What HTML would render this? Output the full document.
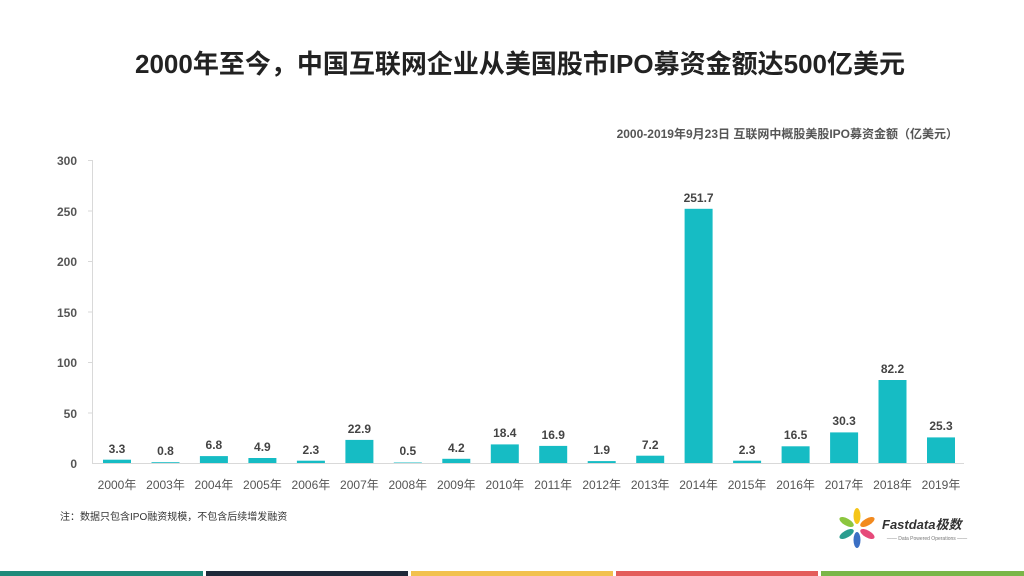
<!DOCTYPE html><html><head><meta charset="utf-8"><style>body{margin:0;background:#fff}svg{display:block}text{font-family:"Liberation Sans","Noto Sans CJK SC",sans-serif}</style></head><body>
<svg width="1024" height="576" viewBox="0 0 1024 576" xmlns="http://www.w3.org/2000/svg">
<text x="520" y="73" text-anchor="middle" font-size="26" font-weight="bold" fill="#222">2000年至今，中国互联网企业从美国股市IPO募资金额达500亿美元</text>
<text x="958" y="138" text-anchor="end" font-size="12" font-weight="bold" fill="#555">2000-2019年9月23日 互联网中概股美股IPO募资金额（亿美元）</text>
<g stroke="#d9d9d9" stroke-width="1">
<line x1="92.5" y1="160" x2="92.5" y2="463"/>
<line x1="92" y1="463.5" x2="964" y2="463.5"/>
<line x1="88" y1="160.5" x2="92" y2="160.5"/><line x1="88" y1="211" x2="92" y2="211"/><line x1="88" y1="261.5" x2="92" y2="261.5"/><line x1="88" y1="312" x2="92" y2="312"/><line x1="88" y1="362.5" x2="92" y2="362.5"/><line x1="88" y1="413" x2="92" y2="413"/>
</g>
<g font-size="12" font-weight="bold" fill="#555" text-anchor="end">
<text x="77" y="165">300</text><text x="77" y="216">250</text><text x="77" y="266">200</text><text x="77" y="317">150</text><text x="77" y="367">100</text><text x="77" y="418">50</text><text x="77" y="468">0</text>
</g>
<text x="60" y="520" font-size="10" fill="#333">注：数据只包含IPO融资规模，不包含后续增发融资</text>
<g transform="translate(857,528)">
<ellipse cx="0" cy="-12" rx="3.5" ry="8" fill="#f5c518"/>
<ellipse cx="0" cy="12" rx="3.5" ry="8" fill="#3b6fc4"/>
<ellipse cx="0" cy="-12" rx="3.5" ry="8" fill="#f28a1f" transform="rotate(60)"/>
<ellipse cx="0" cy="-12" rx="3.5" ry="8" fill="#e64a7a" transform="rotate(120)"/>
<ellipse cx="0" cy="-12" rx="3.5" ry="8" fill="#2a9d8f" transform="rotate(240)"/>
<ellipse cx="0" cy="-12" rx="3.5" ry="8" fill="#8cc63f" transform="rotate(300)"/>
</g>
<text x="882" y="529" font-size="13" font-weight="bold" font-style="italic" fill="#333">Fastdata极数</text>
<text x="927" y="540" text-anchor="middle" font-size="5" fill="#777">—— Data Powered Operations ——</text>
<rect x="0" y="571" width="203" height="5" fill="#1f8a7a"/>
<rect x="206" y="571" width="202" height="5" fill="#1f2a3a"/>
<rect x="411" y="571" width="202" height="5" fill="#f2c14e"/>
<rect x="616" y="571" width="202" height="5" fill="#e35d5b"/>
<rect x="821" y="571" width="203" height="5" fill="#7ab648"/>
<g font-size="12" fill="#555" text-anchor="middle">
<text x="117" y="489">2000年</text><text x="165.5" y="489">2003年</text><text x="213.9" y="489">2004年</text><text x="262.4" y="489">2005年</text><text x="310.9" y="489">2006年</text><text x="359.4" y="489">2007年</text><text x="407.8" y="489">2008年</text><text x="456.3" y="489">2009年</text><text x="504.8" y="489">2010年</text><text x="553.2" y="489">2011年</text><text x="601.7" y="489">2012年</text><text x="650.2" y="489">2013年</text><text x="698.6" y="489">2014年</text><text x="747.1" y="489">2015年</text><text x="795.6" y="489">2016年</text><text x="844.1" y="489">2017年</text><text x="892.5" y="489">2018年</text><text x="941" y="489">2019年</text>
</g>
<g fill="#16bcc4">
<rect x="103" y="459.7" width="28" height="3.3"/><rect x="151.5" y="462.2" width="28" height="0.8"/><rect x="199.9" y="456.1" width="28" height="6.9"/><rect x="248.4" y="458" width="28" height="5"/><rect x="296.9" y="460.7" width="28" height="2.3"/><rect x="345.4" y="439.9" width="28" height="23.1"/><rect x="393.8" y="462.5" width="28" height="0.5"/><rect x="442.3" y="458.8" width="28" height="4.2"/><rect x="490.8" y="444.4" width="28" height="18.6"/><rect x="539.2" y="445.9" width="28" height="17.1"/><rect x="587.7" y="461.1" width="28" height="1.9"/><rect x="636.2" y="455.7" width="28" height="7.3"/><rect x="684.6" y="208.8" width="28" height="254.2"/><rect x="733.1" y="460.7" width="28" height="2.3"/><rect x="781.6" y="446.3" width="28" height="16.7"/><rect x="830.1" y="432.4" width="28" height="30.6"/><rect x="878.5" y="380" width="28" height="83"/><rect x="927" y="437.4" width="28" height="25.6"/>
</g>
<g font-size="12" font-weight="bold" fill="#444" text-anchor="middle">
<text x="117" y="453">3.3</text><text x="165.5" y="455">0.8</text><text x="213.9" y="449">6.8</text><text x="262.4" y="451">4.9</text><text x="310.9" y="454">2.3</text><text x="359.4" y="433">22.9</text><text x="407.8" y="455">0.5</text><text x="456.3" y="452">4.2</text><text x="504.8" y="437">18.4</text><text x="553.2" y="439">16.9</text><text x="601.7" y="454">1.9</text><text x="650.2" y="449">7.2</text><text x="698.6" y="202">251.7</text><text x="747.1" y="454">2.3</text><text x="795.6" y="439">16.5</text><text x="844.1" y="425">30.3</text><text x="892.5" y="373">82.2</text><text x="941" y="430">25.3</text>
</g>
</svg></body></html>
